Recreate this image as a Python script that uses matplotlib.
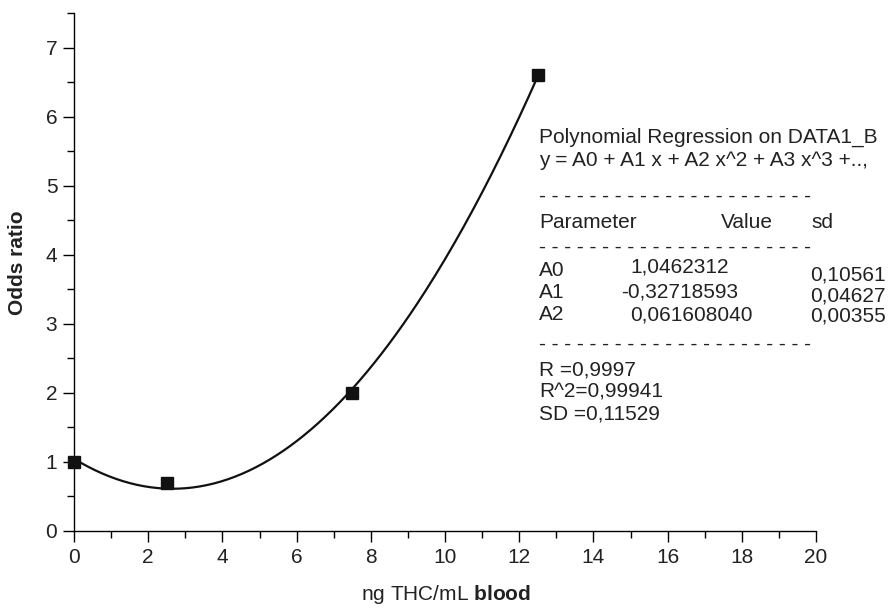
import numpy as np
import matplotlib
matplotlib.use("Agg")
from matplotlib import pyplot as plt

plt.rcParams['font.family'] = ['Liberation Sans', 'DejaVu Sans']
plt.rcParams['mathtext.fontset'] = 'custom'
plt.rcParams['mathtext.rm'] = 'Liberation Sans'
plt.rcParams['mathtext.bf'] = 'Liberation Sans:bold'

# measured points
conc = [0, 2.5, 7.5, 12.5]
odds = [1.0, 0.7, 2.0, 6.6]

# fit coefficients as printed on the chart (A0, A1, A2)
coef = [1.0462312, -0.32718593, 0.061608040]
coef_sd = ["0,10561", "0,04627", "0,00355"]
coef_txt = ["1,0462312", "-0,32718593", "0,061608040"]
param_names = ["A0", "A1", "A2"]
stats = ["R =0,9997", "R^2=0,99941", "SD =0,11529"]

W, H = 891, 609
fig = plt.figure(figsize=(W / 100, H / 100), dpi=100)
ax = fig.add_axes([74 / W, 1 - 531 / H, (816 - 74) / W, (531 - 13) / H])

xs = np.linspace(conc[0], conc[-1], 200)
ax.plot(xs, np.polyval(coef[::-1], xs), color="#111111", lw=1.6, clip_on=False)
ax.plot(conc, odds, "s", color="#111111", ms=8.5, clip_on=False, zorder=3)

ax.set_xlim(0, 20)
ax.set_ylim(0, 7.5)
ax.set_xticks(range(0, 21, 2))
ax.set_xticks(range(1, 20, 2), minor=True)
ax.set_yticks(range(0, 8))
ax.set_yticks(np.arange(0.5, 7.6, 1), minor=True)
for s in ["top", "right"]:
    ax.spines[s].set_visible(False)
for s in ["left", "bottom"]:
    ax.spines[s].set_linewidth(1.0)
ax.tick_params(which="major", length=8, width=1.0, labelsize=15, pad=4,
               labelcolor="#222222")
ax.tick_params(which="minor", length=5, width=1.0)

fig.text(18 / W, 1 - 263 / H, "Odds ratio", rotation=90, ha="center",
         va="center", fontsize=15, fontweight="bold", color="#222222")
fig.text(446 / W, 1 - 594 / H, r"ng THC/mL $\bf{blood}$", ha="center",
         va="center", fontsize=15, color="#222222")


def ft(x, y, s):
    fig.text(x / W, 1 - y / H, s, va="center", fontsize=15, color="#222222")


dashes = "- " * 21 + "-"
ft(539, 137, "Polynomial Regression on DATA1_B")
ft(539, 160, "y = A0 + A1 x + A2 x^2 + A3 x^3 +..,")
ft(539, 197, dashes)
ft(539, 222, "Parameter")
ft(721, 222, "Value")
ft(811, 222, "sd")
ft(539, 247, dashes)
rows = [270, 292, 314]
val_x = [630, 621, 630]
val_dy = [-3, 0, 1]
sd_dy = [5, 4, 2]
for i in range(3):
    ft(539, rows[i], param_names[i])
    ft(val_x[i], rows[i] + val_dy[i], coef_txt[i])
    ft(810, rows[i] + sd_dy[i], coef_sd[i])
ft(539, 344, dashes)
for i, s in enumerate(stats):
    ft(539, 370 + 22 * i, s)

fig.savefig("out.png", dpi=100)
